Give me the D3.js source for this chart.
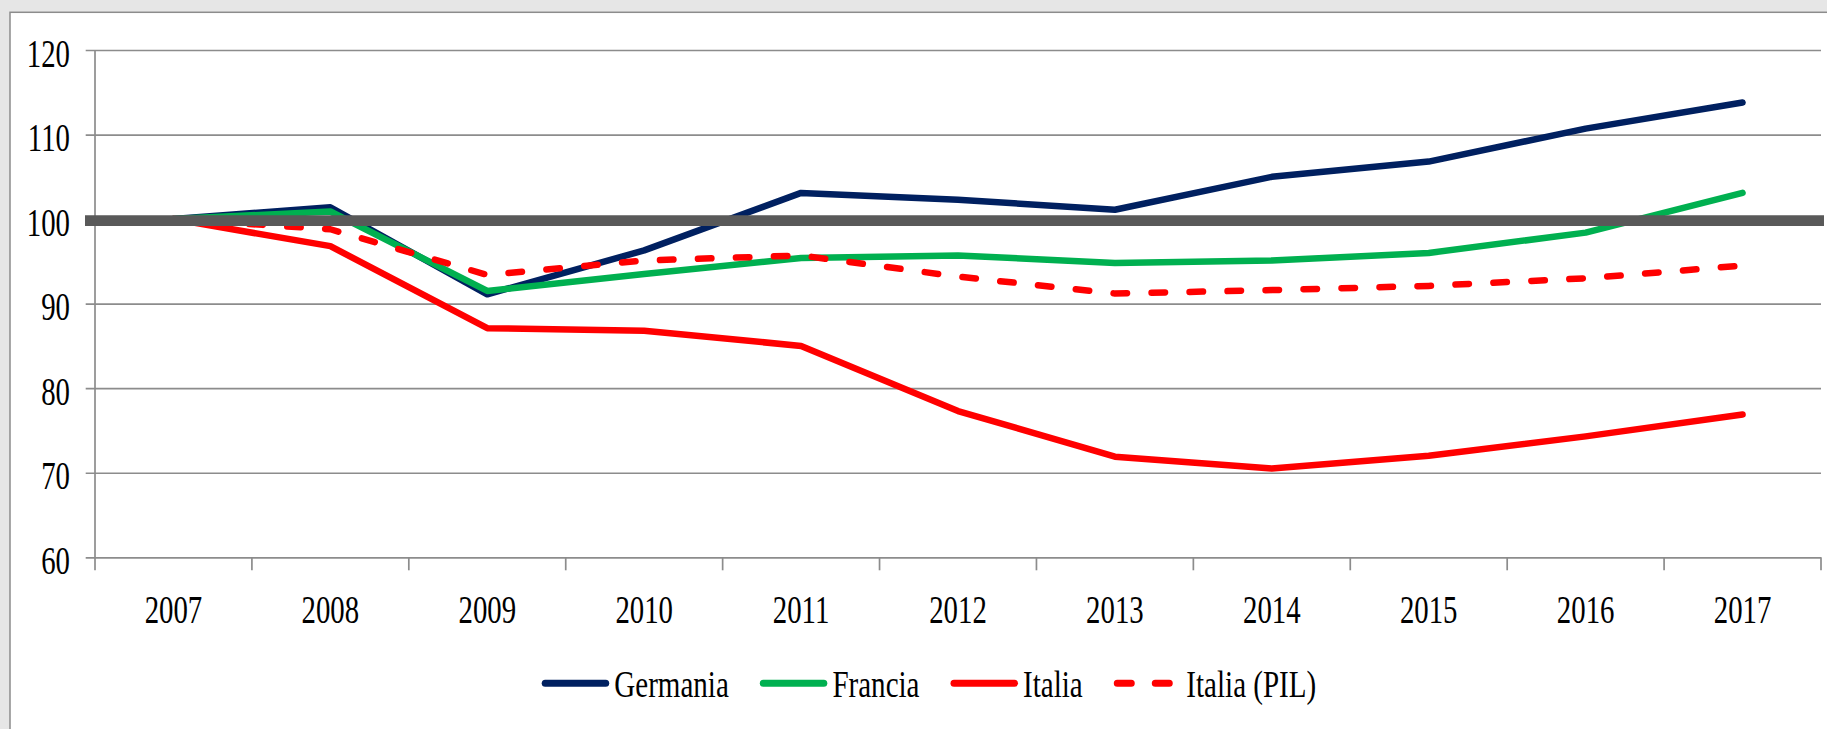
<!DOCTYPE html>
<html>
<head>
<meta charset="utf-8">
<script src="https://cdn.jsdelivr.net/npm/d3@7"></script>
<style>
  html, body { margin: 0; padding: 0; background: #e6e6e6; }
  svg { display: block; }
  text { font-family: "Liberation Serif", "Times New Roman", serif; fill: #000; }
</style>
</head>
<body>
<svg></svg>
<script>
// years on the x axis
var years = ['2007', '2008', '2009', '2010', '2011', '2012', '2013', '2014', '2015', '2016', '2017'];
// index values (2007 = 100)
var germania = [100, 101.4, 91.1, 96.3, 103.1, 102.3, 101.1, 105.0, 106.8, 110.7, 113.8];
var francia = [100, 100.9, 91.5, 93.5, 95.4, 95.7, 94.8, 95.1, 96.0, 98.4, 103.1];
var italia = [100, 96.8, 87.1, 86.8, 85.0, 77.3, 71.9, 70.5, 72.0, 74.3, 76.9];
var italiaPil = [100, 98.8, 93.4, 95.1, 95.7, 93.2, 91.2, 91.6, 92.1, 93.0, 94.5];
var yTicks = [60, 70, 80, 90, 100, 110, 120];
var baseline = 100;

var series = [
    { name: 'Germania', values: germania, color: '#002060', dash: null },
    { name: 'Francia', values: francia, color: '#00b050', dash: null },
    { name: 'Italia', values: italia, color: '#ff0000', dash: null },
    { name: 'Italia (PIL)', values: italiaPil, color: '#ff0000', dash: '13.5,24.5' }
];

var svgWidth = 1827,
    svgHeight = 729;
var margin = { top: 50, left: 95, right: 6, bottom: 171.7 };
var width = svgWidth - margin.left - margin.right,
    height = svgHeight - margin.top - margin.bottom;
var sx = 0.72; // the lettering is narrow

var svg = d3.select('svg')
    .attr('width', svgWidth)
    .attr('height', svgHeight);

// background and frame
svg.append('rect')
    .attr('width', svgWidth).attr('height', svgHeight)
    .attr('fill', '#e6e6e6');
svg.append('rect')
    .attr('x', 10).attr('y', 12.3)
    .attr('width', svgWidth).attr('height', svgHeight)
    .attr('fill', '#fff')
    .attr('stroke', '#8c8c8c')
    .attr('stroke-width', 1.5);

var g = svg.append('g')
    .attr('transform', 'translate(' + margin.left + ',' + margin.top + ')');

var x = d3.scaleBand()
    .domain(years)
    .range([0, width])
    .padding(0);
var y = d3.scaleLinear()
    .domain([60, 120])
    .range([height, 0]);

// horizontal grid + left ticks
var yAxis = g.append('g')
    .call(d3.axisLeft(y).tickValues(yTicks).tickSize(-width).tickFormat(''));
yAxis.select('.domain').remove();
yAxis.selectAll('.tick line')
    .attr('x1', -9.3)
    .attr('stroke', '#8c8c8c')
    .attr('stroke-width', 1.7);

// y axis line
g.append('line')
    .attr('x1', 0).attr('x2', 0)
    .attr('y1', 0).attr('y2', height)
    .attr('stroke', '#8c8c8c')
    .attr('stroke-width', 1.7);

// x axis ticks at band edges
var edges = years.map(function (d) { return x(d); }).concat([width]);
g.selectAll('.xtick')
    .data(edges)
    .enter().append('line')
    .attr('class', 'xtick')
    .attr('x1', d => d).attr('x2', d => d)
    .attr('y1', height).attr('y2', height + 13)
    .attr('stroke', '#8c8c8c')
    .attr('stroke-width', 1.7);

// y labels
g.selectAll('.ylab')
    .data(yTicks)
    .enter().append('text')
    .attr('class', 'ylab')
    .attr('transform', d => 'translate(-25,' + (y(d) + 16.7) + ') scale(' + sx + ',1)')
    .attr('text-anchor', 'end')
    .style('font-size', '40px')
    .text(d => d);

// x labels
g.selectAll('.xlab')
    .data(years)
    .enter().append('text')
    .attr('class', 'xlab')
    .attr('transform', d => 'translate(' + (x(d) + x.bandwidth() / 2) + ',' + (height + 66) + ') scale(' + sx + ',1)')
    .attr('text-anchor', 'middle')
    .style('font-size', '40px')
    .text(d => d);

// lines
var line = d3.line()
    .x((d, i) => x(years[i]) + x.bandwidth() / 2)
    .y(d => y(d));

series.forEach(function (s) {
    g.append('path')
        .datum(s.values)
        .attr('fill', 'none')
        .attr('stroke', s.color)
        .attr('stroke-width', 6.5)
        .attr('stroke-linejoin', 'round')
        .attr('stroke-linecap', 'round')
        .attr('stroke-dasharray', s.dash)
        .attr('d', line);
});

// thick reference line at 100 (sits a touch low in the original)
g.append('line')
    .attr('x1', -10).attr('x2', width + 3)
    .attr('y1', y(baseline) + 1.5).attr('y2', y(baseline) + 1.5)
    .attr('stroke', '#595959')
    .attr('stroke-width', 10.7);

// legend
var lsx = 0.745;
var legend = svg.append('g')
    .attr('transform', 'translate(541.7,683.3)');
var lx = 0;
series.forEach(function (s) {
    var item = legend.append('g').attr('transform', 'translate(' + lx + ',0)');
    item.append('line')
        .attr('x1', 3.5).attr('x2', 64)
        .attr('stroke', s.color)
        .attr('stroke-width', 7)
        .attr('stroke-linecap', 'round')
        .attr('stroke-dasharray', s.dash ? '14,24' : null);
    var t = item.append('text')
        .attr('transform', 'translate(72.6,13.4) scale(' + lsx + ',1)')
        .style('font-size', '39px')
        .text(s.name);
    lx += 72.6 + t.node().getComputedTextLength() * lsx + 31;
});
</script>
</body>
</html>
